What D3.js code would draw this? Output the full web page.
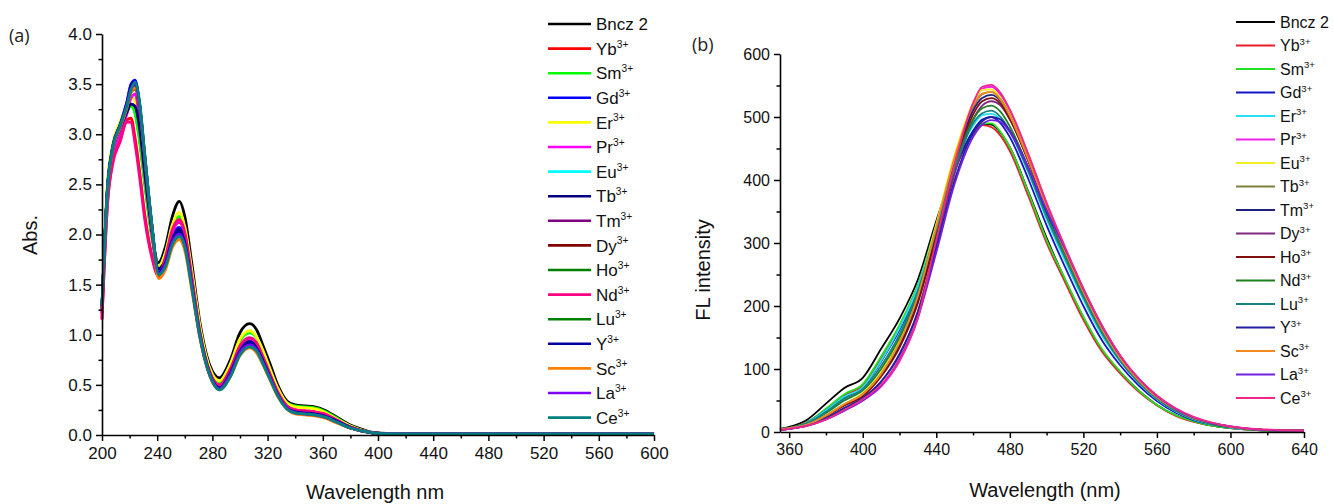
<!DOCTYPE html>
<html><head><meta charset="utf-8">
<script src="https://cdn.jsdelivr.net/npm/d3@7"></script>
<style>body{margin:0;background:#fff}svg{display:block}</style>
</head><body>
<svg id="c" width="1334" height="504"></svg>
<script>
// ---------- DATA ----------
const seriesNames = ["Bncz 2","Yb","Sm","Gd","Er","Pr","Eu","Tb","Tm","Dy","Ho","Nd","Lu","Y","Sc","La","Ce"];
const colorsA = ["#000000","#ff0000","#00ff00","#0000ff","#ffff00","#ff00ff","#00ffff","#000080","#800080","#800000","#008000","#ff0080","#008000","#0000a0","#ff8000","#8000ff","#008080"];
const colorsB = ["#000000","#e8202a","#22e022","#1515c8","#22e0f0","#f020f0","#f0f020","#80803a","#20207f","#7f2a80","#801010","#208020","#1a8080","#2020a0","#f08a20","#7020e0","#f02888"];

// Panel (a) absorption
const wlA = [200,204,208,213,218,221,224,227,231,236,241,246,251,256,260,265,271,278,285,293,300,307,312,317,322,327,334,340,347,354,361,370,380,388,395,402,420,600];
const absBncz2 = [1.22,2.48,2.86,3.04,3.22,3.30,3.22,2.98,2.52,2.00,1.72,1.88,2.18,2.33,2.18,1.72,1.12,0.70,0.57,0.75,1.02,1.11,1.05,0.88,0.70,0.51,0.34,0.30,0.29,0.28,0.25,0.18,0.10,0.06,0.03,0.018,0.012,0.01];
const absYb = [1.16,2.32,2.74,2.94,3.14,3.16,2.96,2.66,2.20,1.80,1.60,1.78,2.03,2.12,2.00,1.56,1.01,0.63,0.50,0.66,0.88,0.96,0.91,0.76,0.59,0.43,0.29,0.25,0.24,0.23,0.21,0.15,0.08,0.045,0.025,0.015,0.012,0.01];
const absSm = [1.24,2.50,2.90,3.08,3.22,3.28,3.20,2.95,2.50,1.98,1.68,1.82,2.08,2.18,2.05,1.62,1.06,0.66,0.53,0.70,0.94,1.02,0.97,0.82,0.64,0.47,0.32,0.29,0.28,0.27,0.24,0.17,0.09,0.05,0.028,0.016,0.013,0.012];
const absGd = [1.28,2.47,2.90,3.10,3.32,3.50,3.54,3.32,2.76,2.10,1.64,1.74,1.98,2.07,1.95,1.53,1.00,0.62,0.48,0.63,0.86,0.95,0.90,0.75,0.58,0.42,0.28,0.24,0.23,0.22,0.20,0.14,0.08,0.045,0.025,0.015,0.012,0.01];
const absEr = [1.27,2.52,2.92,3.12,3.28,3.37,3.33,3.10,2.62,2.05,1.68,1.82,2.10,2.22,2.08,1.65,1.08,0.67,0.54,0.71,0.96,1.04,0.98,0.83,0.65,0.48,0.32,0.28,0.27,0.26,0.23,0.16,0.09,0.05,0.028,0.015,0.012,0.01];
const absPr = [1.20,2.38,2.80,3.00,3.20,3.36,3.40,3.18,2.66,2.04,1.62,1.76,2.02,2.13,2.01,1.57,1.02,0.63,0.49,0.65,0.88,0.96,0.91,0.76,0.59,0.43,0.29,0.25,0.24,0.23,0.21,0.15,0.08,0.045,0.025,0.015,0.012,0.01];
const absEu = [1.28,2.46,2.89,3.09,3.30,3.47,3.50,3.30,2.76,2.10,1.62,1.71,1.94,2.02,1.91,1.50,0.99,0.61,0.47,0.61,0.84,0.92,0.87,0.73,0.57,0.41,0.27,0.23,0.22,0.21,0.19,0.14,0.075,0.04,0.024,0.014,0.012,0.01];
const absTb = [1.25,2.46,2.86,3.05,3.22,3.30,3.28,3.08,2.60,2.04,1.66,1.75,1.96,2.05,1.94,1.52,1.00,0.62,0.48,0.62,0.85,0.93,0.88,0.74,0.58,0.42,0.28,0.24,0.23,0.22,0.20,0.14,0.08,0.045,0.025,0.015,0.013,0.012];
const absTm = [1.28,2.45,2.88,3.08,3.28,3.44,3.48,3.30,2.76,2.10,1.61,1.70,1.92,2.00,1.89,1.49,0.98,0.60,0.46,0.60,0.82,0.90,0.85,0.71,0.56,0.41,0.27,0.22,0.21,0.20,0.18,0.13,0.07,0.04,0.024,0.014,0.012,0.01];
const absDy = [1.27,2.44,2.87,3.07,3.27,3.42,3.45,3.27,2.74,2.09,1.61,1.71,1.94,2.02,1.90,1.50,0.99,0.61,0.47,0.61,0.83,0.91,0.86,0.72,0.56,0.41,0.27,0.23,0.22,0.21,0.19,0.13,0.07,0.04,0.024,0.014,0.012,0.01];
const absHo = [1.28,2.46,2.89,3.09,3.30,3.46,3.48,3.30,2.76,2.10,1.61,1.70,1.92,2.00,1.89,1.49,0.98,0.60,0.46,0.60,0.82,0.90,0.85,0.71,0.56,0.41,0.27,0.22,0.21,0.20,0.18,0.13,0.07,0.04,0.024,0.014,0.013,0.012];
const absNd = [1.15,2.30,2.72,2.92,3.12,3.12,2.90,2.60,2.15,1.78,1.58,1.78,2.05,2.15,2.02,1.58,1.02,0.63,0.50,0.66,0.89,0.97,0.92,0.77,0.60,0.44,0.29,0.25,0.24,0.23,0.21,0.15,0.08,0.045,0.025,0.015,0.012,0.01];
const absLu = [1.29,2.45,2.88,3.08,3.29,3.45,3.50,3.33,2.79,2.11,1.60,1.69,1.91,1.99,1.88,1.48,0.98,0.60,0.46,0.59,0.81,0.89,0.84,0.70,0.55,0.40,0.26,0.22,0.21,0.20,0.18,0.13,0.07,0.04,0.024,0.014,0.013,0.012];
const absY = [1.27,2.46,2.89,3.09,3.31,3.48,3.52,3.32,2.77,2.10,1.62,1.72,1.95,2.03,1.92,1.51,0.99,0.61,0.47,0.62,0.84,0.92,0.87,0.73,0.57,0.41,0.27,0.23,0.22,0.21,0.19,0.14,0.075,0.04,0.025,0.016,0.015,0.015];
const absSc = [1.27,2.43,2.86,3.06,3.26,3.42,3.46,3.30,2.78,2.10,1.56,1.65,1.87,1.95,1.84,1.45,0.96,0.59,0.45,0.58,0.79,0.87,0.82,0.69,0.54,0.39,0.26,0.21,0.20,0.19,0.17,0.12,0.07,0.04,0.024,0.014,0.012,0.01];
const absLa = [1.28,2.45,2.88,3.08,3.29,3.45,3.50,3.31,2.77,2.10,1.61,1.70,1.92,2.00,1.89,1.49,0.98,0.60,0.46,0.60,0.82,0.90,0.85,0.71,0.56,0.41,0.27,0.22,0.21,0.20,0.18,0.13,0.07,0.04,0.024,0.014,0.012,0.012];
const absCe = [1.30,2.45,2.88,3.08,3.28,3.44,3.52,3.35,2.80,2.12,1.60,1.68,1.90,1.98,1.88,1.48,0.98,0.60,0.45,0.58,0.80,0.88,0.84,0.70,0.55,0.40,0.26,0.22,0.21,0.20,0.18,0.13,0.07,0.04,0.024,0.014,0.012,0.01];

// Panel (b) fluorescence
const wlB = [355,360,370,380,390,400,410,420,430,440,450,460,465,470,475,480,490,500,510,520,530,540,550,560,570,580,590,600,620,640];
const flBncz2 = [5,8,20,45,70,86,132,180,242,335,420,475,489,488,475,452,382,308,242,182,130,95,66,43,27,17,10,6,2,1];
const flYb = [4,6,16,36,58,74,118,168,232,325,415,472,487,484,470,446,375,300,238,178,128,93,64,42,26,16,10,6,2,1];
const flSm = [4,6,16,37,60,76,120,170,234,328,418,476,490,490,476,452,381,305,243,183,132,96,66,43,27,17,10,6,2,1];
const flGd = [4,6,15,34,55,70,112,162,226,318,414,478,496,500,490,468,402,328,262,200,146,106,74,49,31,19,12,7,3,1];
const flEr = [4,6,15,34,56,71,113,165,230,325,422,486,503,505,496,476,412,338,272,210,154,112,78,52,33,20,12,7,3,1];
const flPr = [3,5,10,20,34,50,72,112,180,300,420,518,545,548,535,510,440,362,292,226,168,120,84,57,37,23,14,9,3,2];
const flEu = [4,6,12,26,44,62,95,145,220,330,440,522,543,544,530,504,434,356,286,222,164,117,82,55,36,22,14,8,3,2];
const flTb = [4,6,12,26,44,60,92,140,214,322,432,515,536,540,528,503,434,356,287,222,164,117,82,55,36,22,14,8,3,2];
const flTm = [4,6,12,25,43,58,90,136,208,314,425,510,530,535,525,500,432,355,286,221,163,116,81,54,35,22,13,8,3,2];
const flDy = [3,5,11,22,38,54,80,122,192,300,410,496,518,525,518,496,432,356,289,224,166,119,83,56,36,22,14,8,3,2];
const flHo = [4,6,12,25,42,57,88,134,205,310,420,504,525,530,521,497,430,354,286,221,163,116,81,54,35,22,13,8,3,2];
const flNd = [4,6,14,30,50,66,100,150,220,320,420,496,514,518,508,485,420,346,280,216,159,114,79,53,34,21,13,8,3,2];
const flLu = [4,6,14,32,53,68,105,155,224,322,418,490,506,510,500,478,414,342,277,214,158,113,79,53,34,21,13,8,3,2];
const flY = [3,5,11,22,38,54,80,124,190,292,400,474,493,500,496,478,420,350,288,224,166,119,83,56,36,22,14,8,3,2];
const flSc = [4,6,12,26,44,60,92,142,216,326,436,518,537,540,527,502,433,356,287,222,164,117,82,55,36,22,14,8,3,2];
const flLa = [3,5,10,20,34,50,74,116,182,285,394,468,488,495,492,476,420,352,291,227,169,121,85,57,37,23,14,9,3,2];
const flCe = [3,5,10,20,35,52,75,114,182,305,425,522,548,551,538,512,442,364,294,228,170,122,85,58,38,24,15,9,4,2];

const xTicksA = [200,240,280,320,360,400,440,480,520,560,600];
const yTicksA = [0,0.5,1.0,1.5,2.0,2.5,3.0,3.5,4.0];
const xTicksB = [360,400,440,480,520,560,600,640];
const yTicksB = [0,100,200,300,400,500,600];

const absAll = [absBncz2,absYb,absSm,absGd,absEr,absPr,absEu,absTb,absTm,absDy,absHo,absNd,absLu,absY,absSc,absLa,absCe];
const flAll = [flBncz2,flYb,flSm,flGd,flEr,flPr,flEu,flTb,flTm,flDy,flHo,flNd,flLu,flY,flSc,flLa,flCe];

// ---------- DRAW ----------
const svg = d3.select("#c");
const FONT = "Liberation Sans, Arial, sans-serif";

function drawPanel(cfg) {
  const g = svg.append("g");
  const x = d3.scaleLinear().domain(cfg.xDomain).range(cfg.xRange);
  const y = d3.scaleLinear().domain(cfg.yDomain).range(cfg.yRange);
  const line = d3.line().x(d => x(d[0])).y(d => y(d[1])).curve(d3.curveMonotoneX);

  cfg.series.forEach((vals, i) => {
    g.append("path")
      .datum(cfg.wl.map((w, k) => [w, vals[k]]))
      .attr("d", line)
      .attr("fill", "none")
      .attr("stroke", cfg.colors[i])
      .attr("stroke-width", cfg.lw)
      .attr("stroke-linejoin", "round");
  });

  const gxm = g.append("g").attr("transform", `translate(0,${cfg.yRange[0]})`)
    .call(d3.axisBottom(x).tickValues(cfg.xMinor).tickSize(3.5).tickFormat(""));
  const gym = g.append("g").attr("transform", `translate(${cfg.xRange[0]},0)`)
    .call(d3.axisLeft(y).tickValues(cfg.yMinor).tickSize(3.5).tickFormat(""));
  [gxm, gym].forEach(a => { a.select(".domain").remove(); a.selectAll("line").attr("stroke", "#000").attr("stroke-width", 1.5); });

  const gx = g.append("g").attr("transform", `translate(0,${cfg.yRange[0]})`)
    .call(d3.axisBottom(x).tickValues(cfg.xTicks).tickSize(6).tickSizeOuter(0).tickPadding(6).tickFormat(d3.format("d")));
  const gy = g.append("g").attr("transform", `translate(${cfg.xRange[0]},0)`)
    .call(d3.axisLeft(y).tickValues(cfg.yTicks).tickSize(6).tickSizeOuter(0).tickPadding(4).tickFormat(cfg.yFmt));
  [gx, gy].forEach(a => {
    a.select(".domain").attr("stroke", "#000").attr("stroke-width", 1.6);
    a.selectAll("line").attr("stroke", "#000").attr("stroke-width", 1.5);
    a.selectAll("text").attr("font-family", FONT).attr("font-size", cfg.tickFs).attr("fill", "#111");
  });

  g.append("text").attr("x", cfg.xTitlePos[0]).attr("y", cfg.xTitlePos[1])
    .attr("text-anchor", "middle").attr("font-family", FONT).attr("font-size", 20).attr("fill", "#111").text(cfg.xTitle);
  g.append("text").attr("transform", `translate(${cfg.yTitlePos[0]},${cfg.yTitlePos[1]}) rotate(-90)`)
    .attr("text-anchor", "middle").attr("font-family", FONT).attr("font-size", 20).attr("fill", "#111").text(cfg.yTitle);
  g.append("text").attr("x", cfg.labelPos[0]).attr("y", cfg.labelPos[1])
    .attr("font-family", "Open Sans, DejaVu Sans, sans-serif").attr("font-size", 18).attr("fill", "#222").text(cfg.label);

  const lg = g.append("g");
  seriesNames.forEach((name, i) => {
    const yy = cfg.leg.y0 + i * cfg.leg.dy;
    lg.append("line").attr("x1", cfg.leg.x1).attr("x2", cfg.leg.x2).attr("y1", yy).attr("y2", yy)
      .attr("stroke", cfg.colors[i]).attr("stroke-width", cfg.leg.lw);
    const t = lg.append("text").attr("x", cfg.leg.tx).attr("y", yy).attr("dy", "0.36em")
      .attr("font-family", FONT).attr("font-size", cfg.leg.fs).attr("fill", "#111");
    t.append("tspan").text(name);
    if (i > 0) t.append("tspan").attr("dy", -cfg.leg.fs * 0.42).attr("font-size", cfg.leg.fs * 0.6).text("3+");
  });
}

drawPanel({
  wl: wlA, series: absAll, colors: colorsA, lw: 2.8,
  xDomain: [200, 600], xRange: [102, 654], yDomain: [0, 4], yRange: [435, 34],
  xTicks: xTicksA, yTicks: yTicksA,
  xMinor: d3.range(220, 600, 40), yMinor: d3.range(0.25, 4, 0.5),
  yFmt: d3.format(".1f"), tickFs: 17,
  xTitle: "Wavelength nm", xTitlePos: [375, 499], yTitle: "Abs.", yTitlePos: [37, 235],
  label: "(a)", labelPos: [9, 42],
  leg: { x1: 548, x2: 591, tx: 596, y0: 24, dy: 24.6, lw: 2.6, fs: 17 }
});

drawPanel({
  wl: wlB, series: flAll, colors: colorsB, lw: 1.8,
  xDomain: [355, 640], xRange: [780, 1304], yDomain: [0, 600], yRange: [432, 54],
  xTicks: xTicksB, yTicks: yTicksB,
  xMinor: d3.range(380, 640, 40), yMinor: d3.range(50, 600, 100),
  yFmt: d3.format("d"), tickFs: 16,
  xTitle: "Wavelength (nm)", xTitlePos: [1045, 497], yTitle: "FL intensity", yTitlePos: [710, 270],
  label: "(b)", labelPos: [692, 51],
  leg: { x1: 1236, x2: 1275, tx: 1280, y0: 22, dy: 23.5, lw: 2, fs: 16 }
});
</script>
</body></html>
